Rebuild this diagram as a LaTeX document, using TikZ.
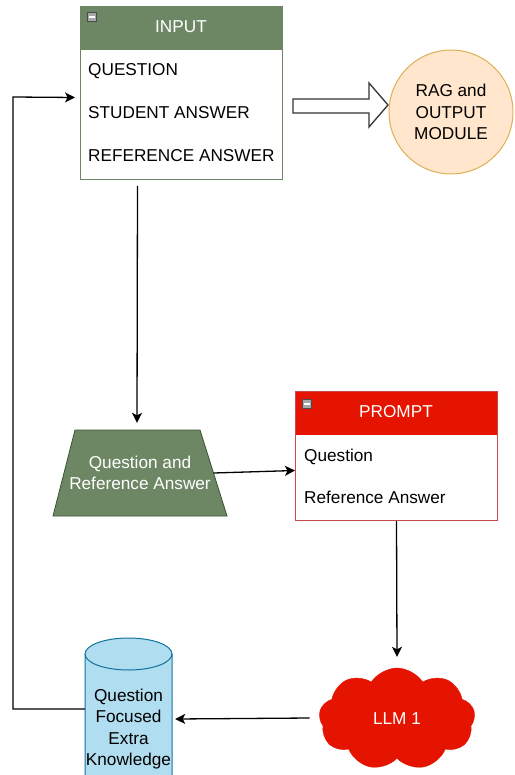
\documentclass[tikz,border=0pt]{standalone}
\usepackage{fontspec}
\setmainfont{Liberation Sans}
\usetikzlibrary{shapes.geometric,shapes.symbols,arrows.meta,calc}
\definecolor{grn}{HTML}{6D8764}
\definecolor{grnd}{HTML}{3A5431}
\definecolor{redh}{HTML}{E51400}
\definecolor{redd}{HTML}{C94A4A}
\definecolor{orgf}{HTML}{FFE6CC}
\definecolor{orgd}{HTML}{DDB055}
\definecolor{bluf}{HTML}{B1DDF0}
\definecolor{blud}{HTML}{10739E}
\tikzset{
  txt/.style={inner sep=0pt, anchor=base west},
  ttl/.style={inner sep=0pt, anchor=base, text=white},
  arr/.style={line width=1.3pt, -{Stealth[length=10pt,width=10pt,inset=2.5pt]}},
  minus/.style={draw=black!70, fill=black!35, line width=0.6pt, minimum size=9pt, inner sep=0pt, anchor=north west},
}
\begin{document}
\begin{tikzpicture}[x=1pt,y=-1pt,font=\fontsize{17.2}{21.5}\selectfont]
\useasboundingbox (0,0) rectangle (514,775);

% INPUT box
\node[fill=grn, draw=grn, minimum width=202pt, minimum height=43pt, inner sep=0pt, anchor=north west] (inhead) at (80,6) {};
\node[draw=grn, line width=1pt, minimum width=202pt, minimum height=173pt, inner sep=0pt, anchor=north west] (input) at (80,6) {};
\node[minus] (inmin) at (87,12) {};
\draw[white, line width=1.6pt] ([xshift=1.8pt]inmin.west) -- ([xshift=-1.8pt]inmin.east);
\node[ttl] (intitle) at (181,33) {INPUT};
\node[txt] (q1) at (88,76) {QUESTION};
\node[txt] (q2) at (88,119) {STUDENT ANSWER};
\node[txt] (q3) at (88,162) {REFERENCE ANSWER};

% block arrow
\draw[line width=1.3pt, draw=black!80, fill=white] (293,99) -- (369,99) -- (369,83) -- (388,105) -- (369,127) -- (369,113) -- (293,113) -- cycle;

% RAG circle
\node[circle, draw=orgd, fill=orgf, line width=1pt, minimum size=124pt, inner sep=0pt, align=center] (rag) at (451,112) {RAG and\\OUTPUT\\MODULE};

% trapezoid
\draw[fill=grn, draw=grnd, line width=0.8pt] (75,430) -- (200,430) -- (227,516) -- (53,516) -- cycle;
\node[minimum width=174pt, minimum height=86pt, inner sep=0pt, text=white, align=center] (trap) at (140,473) {Question and\\Reference Answer};

% PROMPT box
\node[fill=redh, draw=redh, minimum width=202pt, minimum height=43pt, inner sep=0pt, anchor=north west] (prhead) at (295,391) {};
\node[draw=redd, line width=1pt, minimum width=202pt, minimum height=129pt, inner sep=0pt, anchor=north west] (prompt) at (295,391) {};
\node[minus] (prmin) at (302,399) {};
\draw[white, line width=1.6pt] ([xshift=1.8pt]prmin.west) -- ([xshift=-1.8pt]prmin.east);
\node[ttl] (prtitle) at (396,417) {PROMPT};
\node[txt] (p1) at (304,461) {Question};
\node[txt] (p2) at (304,503) {Reference Answer};

% cloud
\node[cloud, cloud puffs=9, cloud puff arc=115, aspect=1.55, fill=redh, draw=redh,
      minimum width=156pt, minimum height=102pt, inner sep=0pt, text=white] (llm) at (397,719) {LLM 1};

% cylinder
\path[draw=blud, fill=bluf, line width=1pt] (85,654) -- (85,780) arc[start angle=180,end angle=360,x radius=43.5pt,y radius=16pt] -- (172,654) arc[start angle=0,end angle=180,x radius=43.5pt,y radius=16pt] -- cycle;
\draw[blud, line width=1pt] (85,654) arc[start angle=180,end angle=360,x radius=43.5pt,y radius=16pt];
\node[minimum width=87pt, minimum height=137pt, inner sep=0pt] (cylbox) at (128.5,706.5) {};
\node[align=center, inner sep=0pt] (cyltext) at (128.5,729) {Question\\Focused\\Extra\\Knowledge};

% connectors
\draw[arr] ([xshift=-44pt,yshift=-6pt]input.south) -- ([xshift=-3pt,yshift=7pt]trap.north);
\draw[arr] ([xshift=-13.5pt]trap.east) -- ([yshift=-14.5pt]prompt.west);
\draw[arr] (prompt.south) -- ([yshift=11pt]llm.north);
\draw[arr] ([xshift=-10pt,yshift=1pt]llm.west) -- ([xshift=3pt,yshift=-12.5pt]cylbox.east);
\draw[arr] ([yshift=-2.5pt]cylbox.west) -- (13,709) -- (13,97) -- ([xshift=-5pt,yshift=-4.5pt]input.west);
\end{tikzpicture}
\end{document}
